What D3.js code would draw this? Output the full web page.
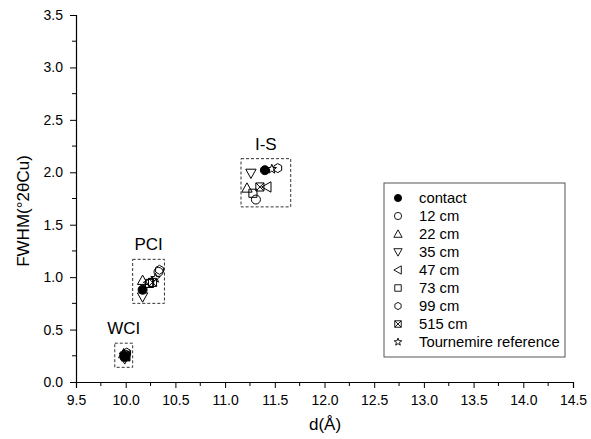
<!DOCTYPE html>
<html><head><meta charset="utf-8">
<script src="https://cdn.jsdelivr.net/npm/d3@7"></script>
<style>body{margin:0;background:#fff}svg{display:block}text{font-family:Arial,"Liberation Sans",sans-serif;fill:#000}</style>
</head><body><svg id="c" width="591" height="439"></svg>
<script>
const seriesNames = ["contact","12 cm","22 cm","35 cm","47 cm","73 cm","99 cm","515 cm","Tournemire reference"];
const seriesShapes = ["dot","circle","up","down","left","square","hexagon","xsquare","star"];
// [d(Å), FWHM] per series: WCI, PCI, I-S
const contact = [[9.99,0.24],[10.17,0.88],[11.40,2.02]];
const cm12    = [[10.00,0.26],[10.33,1.05],[11.31,1.74]];
const cm22    = [[9.98,0.27],[10.17,0.97],[11.22,1.85]];
const cm35    = [[9.99,0.22],[10.17,0.81],[11.26,1.99]];
const cm47    = [[10.00,0.25],[10.23,0.95],[11.42,1.86]];
const cm73    = [[9.99,0.25],[10.24,0.94],[11.28,1.80]];
const cm99    = [[10.01,0.28],[10.34,1.07],[11.53,2.04]];
const cm515   = [[10.00,0.24],[10.27,0.95],[11.35,1.86]];
const tournemire = [[9.98,0.26],[10.30,0.99],[11.47,2.03]];
const seriesData = [contact,cm12,cm22,cm35,cm47,cm73,cm99,cm515,tournemire];
const groupLabels = ["WCI","PCI","I-S"];
// dashed boxes [x0,x1,y0,y1] in data units
const groupBoxes = [[9.89,10.07,0.14,0.37],[10.07,10.39,0.75,1.17],[11.16,11.66,1.67,2.13]];
const xTicks = [9.5,10.0,10.5,11.0,11.5,12.0,12.5,13.0,13.5,14.0,14.5];
const yTicks = [0.0,0.5,1.0,1.5,2.0,2.5,3.0,3.5];

const svg = d3.select("#c");
const x = d3.scaleLinear().domain([9.5,14.5]).range([76,573]);
const y = d3.scaleLinear().domain([0,3.5]).range([382,15]);

function shapePath(s, r){
  const p = d3.path();
  if(s==="dot"||s==="circle"){ p.arc(0,0,r,0,2*Math.PI); return p.toString(); }
  if(s==="up"){ const h=r*1.15; return `M0,${-h}L${h},${h*0.8}L${-h},${h*0.8}Z`; }
  if(s==="down"){ const h=r*1.15; return `M0,${h}L${h},${-h*0.8}L${-h},${-h*0.8}Z`; }
  if(s==="left"){ const h=r*1.15; return `M${-h},0L${h*0.8},${-h}L${h*0.8},${h}Z`; }
  if(s==="square"){ const h=r*0.9; return `M${-h},${-h}H${h}V${h}H${-h}Z`; }
  if(s==="xsquare"){ const h=r*0.9; return `M${-h},${-h}H${h}V${h}H${-h}ZM${-h},${-h}L${h},${h}M${h},${-h}L${-h},${h}`; }
  if(s==="hexagon"){ let d=""; for(let i=0;i<6;i++){const a=Math.PI/6+i*Math.PI/3; d+=(i?"L":"M")+(r*Math.cos(a)).toFixed(2)+","+(r*Math.sin(a)).toFixed(2);} return d+"Z"; }
  if(s==="star"){ let d=""; for(let i=0;i<10;i++){const a=-Math.PI/2+i*Math.PI/5; const rr=i%2?r*0.45:r*1.1; d+=(i?"L":"M")+(rr*Math.cos(a)).toFixed(2)+","+(rr*Math.sin(a)).toFixed(2);} return d+"Z"; }
}

// axes
const xAxis = d3.axisBottom(x).tickValues(xTicks).tickFormat(d3.format(".1f")).tickSize(6).tickPadding(7);
const gx = svg.append("g").attr("transform","translate(0,382)").call(xAxis);
const yAxis = d3.axisLeft(y).tickValues(yTicks).tickFormat(d3.format(".1f")).tickSize(6).tickPadding(7);
const gy = svg.append("g").attr("transform","translate(76,0)").call(yAxis);
[gx,gy].forEach(g=>{g.selectAll("text").style("font-size","14px").style("font-family","Arial,'Liberation Sans',sans-serif");
  g.select(".domain").attr("stroke","#000").attr("stroke-width",1.2); g.selectAll(".tick line").attr("stroke","#000");});
// minor ticks
const xMinor = xTicks.slice(0,-1).map(v=>v+0.25);
const yMinor = yTicks.slice(0,-1).map(v=>v+0.25);
svg.append("g").selectAll("line").data(xMinor).join("line")
  .attr("x1",d=>x(d)).attr("x2",d=>x(d)).attr("y1",382).attr("y2",386).attr("stroke","#000");
svg.append("g").selectAll("line").data(yMinor).join("line")
  .attr("y1",d=>y(d)).attr("y2",d=>y(d)).attr("x1",76).attr("x2",72).attr("stroke","#000");

// axis titles
svg.append("text").attr("x",325).attr("y",430).attr("text-anchor","middle").style("font-size","17px").text("d(Å)");
svg.append("text").attr("transform","translate(29,211) rotate(-90)").attr("text-anchor","middle").style("font-size","17px").text("FWHM(°2θCu)");

// group boxes and labels
svg.append("g").selectAll("rect").data(groupBoxes).join("rect")
  .attr("x",d=>x(d[0])).attr("y",d=>y(d[3])).attr("width",d=>x(d[1])-x(d[0])).attr("height",d=>y(d[2])-y(d[3]))
  .attr("fill","none").attr("stroke","#333").attr("stroke-dasharray","3,2").attr("stroke-width",1);
svg.append("g").selectAll("text").data(groupLabels).join("text")
  .attr("x",(d,i)=>(x(groupBoxes[i][0])+x(groupBoxes[i][1]))/2).attr("y",(d,i)=>y(groupBoxes[i][3])-9)
  .attr("text-anchor","middle").style("font-size","17px").text(d=>d);

// points
seriesData.forEach((arr,si)=>{
  const s = seriesShapes[si];
  svg.append("g").selectAll("path").data(arr).join("path")
    .attr("transform",d=>`translate(${x(d[0])},${y(d[1])})`)
    .attr("d",shapePath(s,4.5))
    .attr("fill",s==="dot"?"#000":"none").attr("stroke","#000").attr("stroke-width",1);
});

// legend
const lg = svg.append("g");
lg.append("rect").attr("x",384).attr("y",183).attr("width",181).attr("height",174).attr("fill","#fff").attr("stroke","#555").attr("stroke-width",1);
const items = lg.selectAll("g").data(seriesNames).join("g").attr("transform",(d,i)=>`translate(398,${198+i*18})`);
items.append("path").attr("d",(d,i)=>shapePath(seriesShapes[i],3.6))
  .attr("fill",(d,i)=>seriesShapes[i]==="dot"?"#000":"none").attr("stroke","#000").attr("stroke-width",0.9);
items.append("text").attr("x",21).attr("y",5).style("font-size","14.8px").text(d=>d);
</script></body></html>
